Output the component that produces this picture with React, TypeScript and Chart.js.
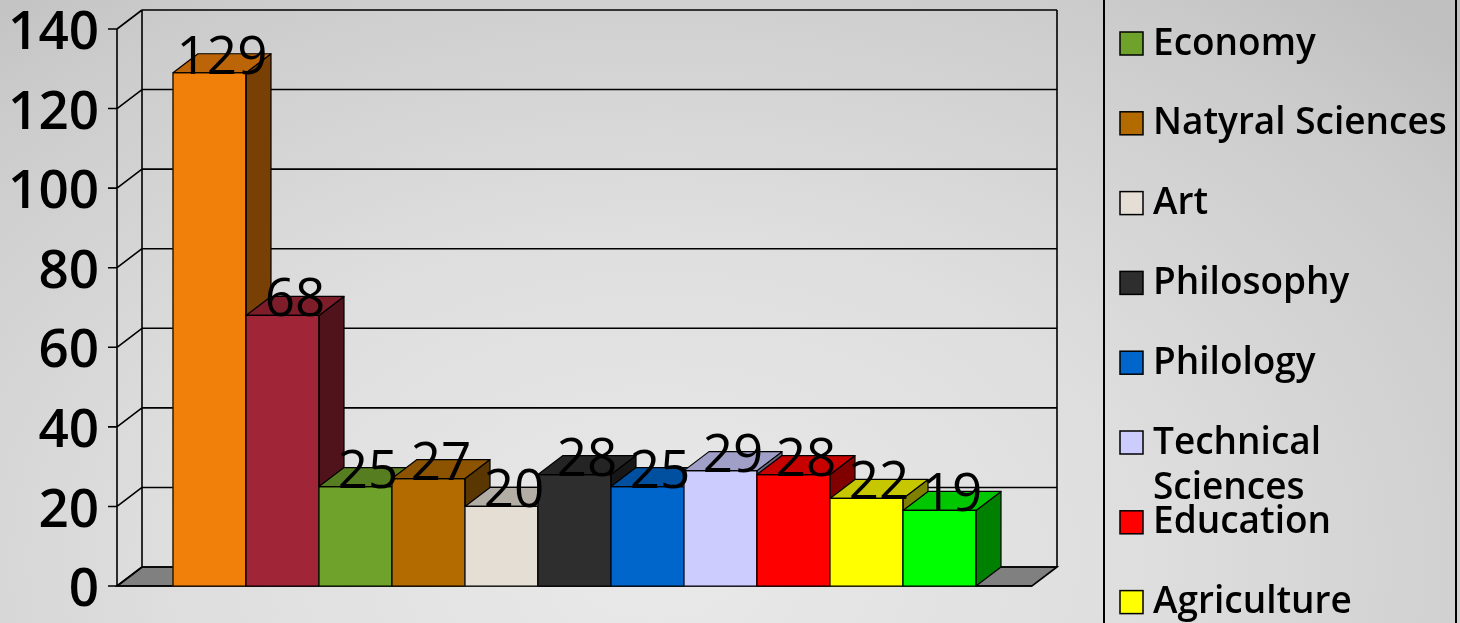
import React, { useEffect, useRef } from "react";
import { Chart, registerables } from "chart.js";

Chart.register(...registerables);

// ---- data ----
const categories: string[] = [
  "",
  "",
  "Economy",
  "Natyral Sciences",
  "Art",
  "Philosophy",
  "Philology",
  "Technical Sciences",
  "Education",
  "Agriculture",
  "",
];
const values: number[] = [129, 68, 25, 27, 20, 28, 25, 29, 28, 22, 19];
const barColors: string[] = [
  "#F0800A",
  "#A02536",
  "#6EA22A",
  "#B36B00",
  "#E4DED4",
  "#2E2E2E",
  "#0066CC",
  "#CCCCFF",
  "#FF0000",
  "#FFFF00",
  "#00FF00",
];
const yMin = 0;
const yMax = 140;
const yStep = 20;

// ---- style constants ----
const DX = 25;
const DY = 19;
const SIDE_PAD = 56;
const FONT = "'Open Sans', 'DejaVu Sans', sans-serif";

function shade(hex: string, f: number): string {
  const n = parseInt(hex.slice(1), 16);
  const r = Math.round(((n >> 16) & 255) * f);
  const g = Math.round(((n >> 8) & 255) * f);
  const b = Math.round((n & 255) * f);
  return `rgb(${r},${g},${b})`;
}

const threeDPlugin = {
  id: "threeD",
  beforeDatasetsDraw(chart: any) {
    const { ctx, chartArea } = chart;
    const y = chart.scales.y;
    const left = chartArea.left - SIDE_PAD;
    const right = chartArea.right + SIDE_PAD;
    const y0 = y.getPixelForValue(yMin);
    const yT = y.getPixelForValue(yMax);
    ctx.save();
    ctx.strokeStyle = "#000";
    ctx.lineWidth = 1.6;
    // floor
    ctx.beginPath();
    ctx.moveTo(left, y0);
    ctx.lineTo(right, y0);
    ctx.lineTo(right + DX, y0 - DY);
    ctx.lineTo(left + DX, y0 - DY);
    ctx.closePath();
    ctx.fillStyle = "#808080";
    ctx.fill();
    ctx.stroke();
    // gridlines, diagonals, ticks
    ctx.beginPath();
    y.ticks.forEach((t: any) => {
      const py = y.getPixelForValue(t.value);
      ctx.moveTo(left + DX, py - DY);
      ctx.lineTo(right + DX, py - DY);
      ctx.moveTo(left, py);
      ctx.lineTo(left + DX, py - DY);
      ctx.moveTo(left - 9, py);
      ctx.lineTo(left, py);
    });
    ctx.moveTo(left, y0);
    ctx.lineTo(left, yT);
    ctx.moveTo(left + DX, y0 - DY);
    ctx.lineTo(left + DX, yT - DY);
    ctx.moveTo(right + DX, y0 - DY);
    ctx.lineTo(right + DX, yT - DY);
    ctx.moveTo(left - 9, y0);
    ctx.lineTo(right, y0);
    ctx.stroke();
    ctx.restore();
  },
  afterDatasetsDraw(chart: any) {
    const { ctx } = chart;
    const meta = chart.getDatasetMeta(0);
    ctx.save();
    ctx.strokeStyle = "#000";
    ctx.lineWidth = 1.2;
    ctx.lineJoin = "round";
    meta.data.forEach((bar: any, i: number) => {
      const { x, y, base, width } = bar.getProps(["x", "y", "base", "width"], true);
      const l = x - width / 2;
      const r = x + width / 2;
      bar.draw(ctx);
      // side face
      ctx.beginPath();
      ctx.moveTo(r, y);
      ctx.lineTo(r + DX, y - DY);
      ctx.lineTo(r + DX, base - DY);
      ctx.lineTo(r, base);
      ctx.closePath();
      ctx.fillStyle = shade(barColors[i], 0.5);
      ctx.fill();
      ctx.stroke();
      // top face
      ctx.beginPath();
      ctx.moveTo(l, y);
      ctx.lineTo(l + DX, y - DY);
      ctx.lineTo(r + DX, y - DY);
      ctx.lineTo(r, y);
      ctx.closePath();
      ctx.fillStyle = shade(barColors[i], 0.78);
      ctx.fill();
      ctx.stroke();
      // front outline
      ctx.strokeRect(l, y, width, base - y);
    });
    // value labels
    ctx.fillStyle = "#000";
    ctx.font = `500 53px ${FONT}`;
    ctx.textAlign = "center";
    ctx.textBaseline = "alphabetic";
    meta.data.forEach((bar: any, i: number) => {
      const { x, y } = bar.getProps(["x", "y"], true);
      ctx.fillText(String(values[i]), x + DX / 2, y + 1);
    });
    ctx.restore();
  },
};

const legendPlugin = {
  id: "sideLegend",
  afterDraw(chart: any) {
    const { ctx, height } = chart;
    const boxL = 1104;
    const boxR = 1456;
    ctx.save();
    ctx.strokeStyle = "#000";
    ctx.lineWidth = 2;
    ctx.beginPath();
    ctx.moveTo(boxL, 0);
    ctx.lineTo(boxL, height);
    ctx.moveTo(boxR, 0);
    ctx.lineTo(boxR, height);
    ctx.stroke();
    ctx.font = `600 37px ${FONT}`;
    ctx.textAlign = "left";
    ctx.textBaseline = "middle";
    const firstShown = 2;
    const firstY = 44;
    const spacing = 79.8;
    const textX = 1153;
    const maxW = boxR - textX - 2;
    categories.forEach((name, i) => {
      const cy = firstY + (i - firstShown) * spacing;
      // swatch
      ctx.fillStyle = barColors[i];
      ctx.fillRect(1120, cy - 12, 23, 23);
      ctx.lineWidth = 1.5;
      ctx.strokeRect(1120, cy - 12, 23, 23);
      // wrapped text
      const words = name.split(" ");
      const lines: string[] = [];
      let cur = "";
      words.forEach((w) => {
        const test = cur ? cur + " " + w : w;
        if (cur && ctx.measureText(test).width > maxW) {
          lines.push(cur);
          cur = w;
        } else {
          cur = test;
        }
      });
      if (cur) lines.push(cur);
      ctx.fillStyle = "#000";
      lines.forEach((ln, k) => ctx.fillText(ln, textX, cy + k * 45));
    });
    ctx.restore();
  },
};

export default function App() {
  const canvasRef = useRef<HTMLCanvasElement | null>(null);

  useEffect(() => {
    document.body.style.margin = "0";
    const canvas = canvasRef.current;
    if (!canvas) return;
    const chart = new Chart(canvas, {
      type: "bar",
      data: {
        labels: categories,
        datasets: [
          {
            data: values,
            backgroundColor: barColors,
            borderColor: "#000",
            borderWidth: 0,
            categoryPercentage: 1,
            barPercentage: 1,
          },
        ],
      },
      options: {
        animation: false,
        responsive: false,
        devicePixelRatio: 1,
        layout: { padding: { left: 0, right: 484, top: 29, bottom: 37 } },
        plugins: {
          legend: { display: false },
          tooltip: { enabled: false },
        },
        scales: {
          x: { display: false, offset: true },
          y: {
            min: yMin,
            max: yMax,
            grid: { display: false, drawTicks: false },
            border: { display: false },
            ticks: {
              stepSize: yStep,
              padding: 74,
              color: "#000",
              labelOffset: 5,
              font: { family: FONT, size: 53, weight: "600", lineHeight: 1 },
            },
            afterFit: (scale: any) => {
              scale.width = 173;
              scale.paddingTop = 0;
              scale.paddingBottom = 0;
            },
          },
        },
      },
      plugins: [threeDPlugin, legendPlugin],
    });
    return () => chart.destroy();
  }, []);

  return (
    <div
      style={{
        position: "absolute",
        left: 0,
        top: 0,
        width: 1460,
        height: 623,
        overflow: "hidden",
        background:
          "radial-gradient(ellipse 75% 120% at 45% 90%, #e9e9e9 0%, #dedede 45%, #cbcbcb 85%, #c0c0c0 100%)",
      }}
    >
      <canvas ref={canvasRef} width={1460} height={623} style={{ display: "block", width: 1460, height: 623 }} />
    </div>
  );
}
